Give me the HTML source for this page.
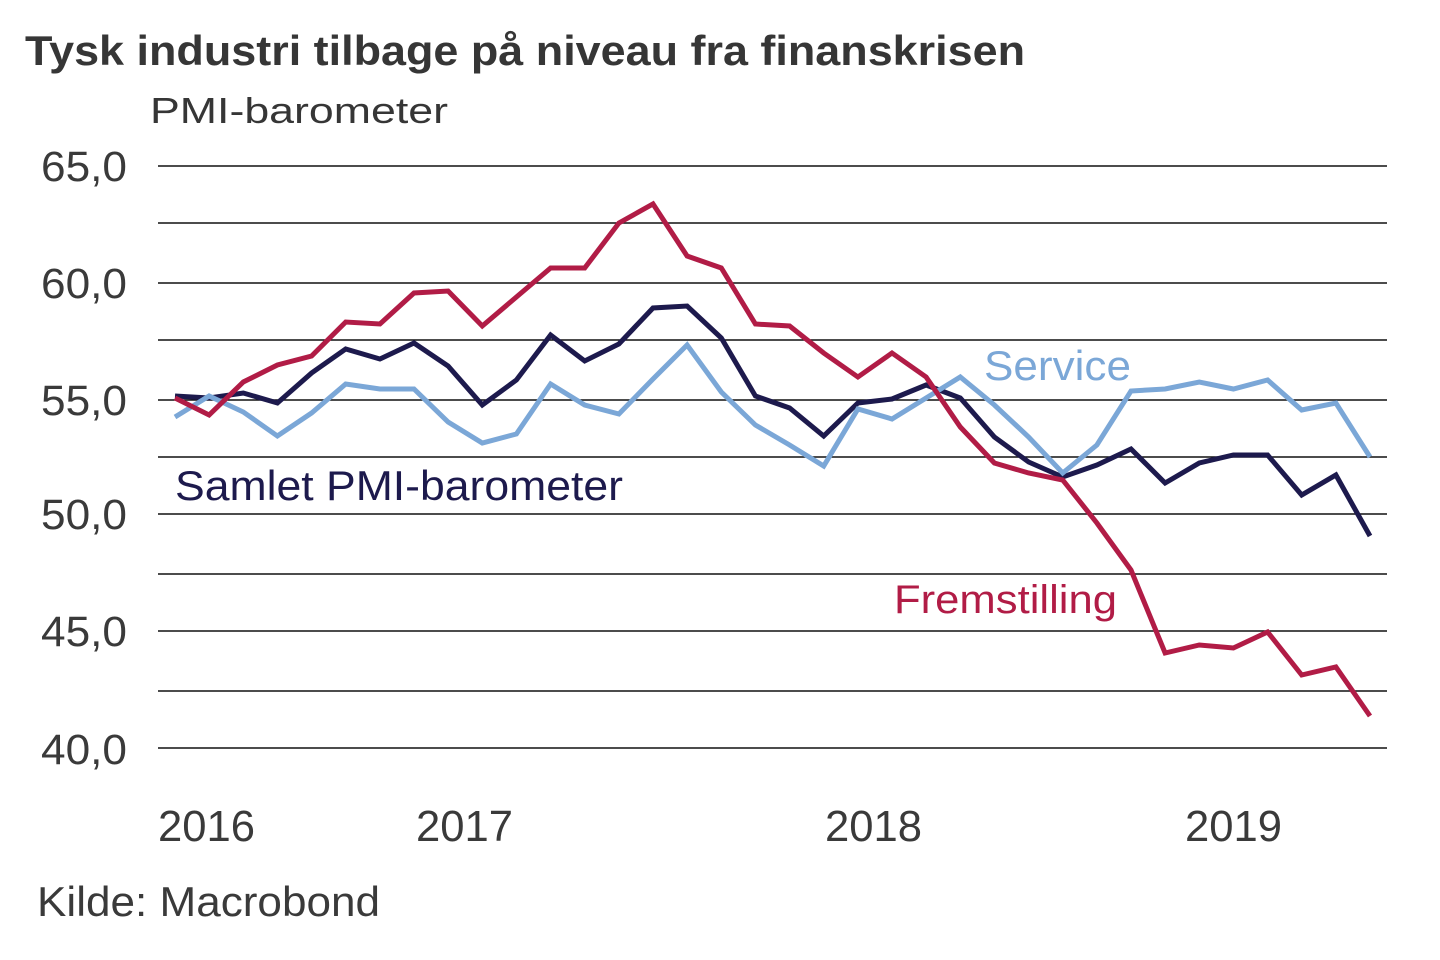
<!DOCTYPE html>
<html>
<head>
<meta charset="utf-8">
<style>
  html,body{margin:0;padding:0;background:#ffffff;}
  svg{display:block;}
  text{font-family:"Liberation Sans", Arial, sans-serif;}
</style>
</head>
<body>
<svg width="1440" height="960" viewBox="0 0 1440 960" xmlns="http://www.w3.org/2000/svg">
  <rect x="0" y="0" width="1440" height="960" fill="#ffffff"/>

  <!-- Title -->
  <text x="25" y="65" font-size="42" font-weight="bold" fill="#363636" textLength="1000" lengthAdjust="spacingAndGlyphs">Tysk industri tilbage på niveau fra finanskrisen</text>
  <text x="150" y="123" font-size="36" fill="#363636" textLength="298" lengthAdjust="spacingAndGlyphs">PMI-barometer</text>

  <!-- Gridlines -->
  <g stroke="#111111" stroke-width="1.6">
    <line x1="158" y1="166" x2="1387" y2="166"/>
    <line x1="158" y1="223" x2="1387" y2="223"/>
    <line x1="158" y1="283" x2="1387" y2="283"/>
    <line x1="158" y1="340" x2="1387" y2="340"/>
    <line x1="158" y1="400" x2="1387" y2="400"/>
    <line x1="158" y1="457" x2="1387" y2="457"/>
    <line x1="158" y1="514" x2="1387" y2="514"/>
    <line x1="158" y1="574" x2="1387" y2="574"/>
    <line x1="158" y1="631" x2="1387" y2="631"/>
    <line x1="158" y1="691" x2="1387" y2="691"/>
    <line x1="158" y1="748" x2="1387" y2="748"/>
  </g>

  <!-- Y axis labels -->
  <g font-size="43" fill="#3a3a3a">
    <text x="41" y="181" textLength="86" lengthAdjust="spacingAndGlyphs">65,0</text>
    <text x="41" y="298" textLength="86" lengthAdjust="spacingAndGlyphs">60,0</text>
    <text x="41" y="415" textLength="86" lengthAdjust="spacingAndGlyphs">55,0</text>
    <text x="41" y="529" textLength="86" lengthAdjust="spacingAndGlyphs">50,0</text>
    <text x="41" y="646" textLength="86" lengthAdjust="spacingAndGlyphs">45,0</text>
    <text x="41" y="764" textLength="86" lengthAdjust="spacingAndGlyphs">40,0</text>
  </g>

  <!-- X axis labels -->
  <g font-size="44" fill="#3a3a3a">
    <text x="158" y="841" textLength="97" lengthAdjust="spacingAndGlyphs">2016</text>
    <text x="416" y="841" textLength="97" lengthAdjust="spacingAndGlyphs">2017</text>
    <text x="825" y="841" textLength="97" lengthAdjust="spacingAndGlyphs">2018</text>
    <text x="1185" y="841" textLength="97" lengthAdjust="spacingAndGlyphs">2019</text>
  </g>

  <!-- Source -->
  <text x="37" y="916" font-size="42" fill="#3a3a3a" textLength="343" lengthAdjust="spacingAndGlyphs">Kilde: Macrobond</text>

  <!-- Series -->
  <g fill="none" stroke-width="5" stroke-linejoin="miter" stroke-miterlimit="3">
    <polyline stroke="#1d1a4d" points="175,396 209.1,398 243.3,393 277.4,403 311.6,373 345.7,349 379.9,359 414,343 448.1,366 482.3,405 516.4,380 550.6,335 584.7,361 618.9,344 653,308 687.1,306 721.3,338 755.4,396 789.6,408 823.7,436 857.9,403 892,399 926.1,385 960.3,398 994.4,437 1028.6,462 1062.7,477 1096.9,465 1131,449 1165.1,483 1199.3,463 1233.4,455 1267.6,455 1301.7,495 1335.9,475 1370,536"/>
    <polyline stroke="#7ba7d7" points="175,417 209.1,396 243.3,412 277.4,436 311.6,413 345.7,384 379.9,389 414,389 448.1,422 482.3,443 516.4,434 550.6,384 584.7,405 618.9,414 653,379 687.1,345 721.3,392 755.4,425 789.6,445 823.7,466 857.9,409 892,419 926.1,398 960.3,377 994.4,405 1028.6,437 1062.7,473 1096.9,445 1131,391 1165.1,389 1199.3,382 1233.4,389 1267.6,380 1301.7,410 1335.9,403 1370,457"/>
    <polyline stroke="#b11c46" points="175,398 209.1,415 243.3,382 277.4,365 311.6,356 345.7,322 379.9,324 414,293 448.1,291 482.3,326 516.4,297 550.6,268 584.7,268 618.9,223 653,204 687.1,256 721.3,268 755.4,324 789.6,326 823.7,353 857.9,377 892,353 926.1,377 960.3,427 994.4,463 1028.6,473 1062.7,480 1096.9,523 1131,570 1165.1,653 1199.3,645 1233.4,648 1267.6,632 1301.7,675 1335.9,667 1370,716"/>
  </g>

  <!-- Series labels -->
  <text x="175" y="500" font-size="42" fill="#1d1a4d" textLength="448" lengthAdjust="spacingAndGlyphs">Samlet PMI-barometer</text>
  <text x="984" y="380" font-size="42" fill="#7ba7d7" textLength="147" lengthAdjust="spacingAndGlyphs">Service</text>
  <text x="894" y="613" font-size="40" fill="#b11c46" textLength="223" lengthAdjust="spacingAndGlyphs">Fremstilling</text>
</svg>
</body>
</html>
